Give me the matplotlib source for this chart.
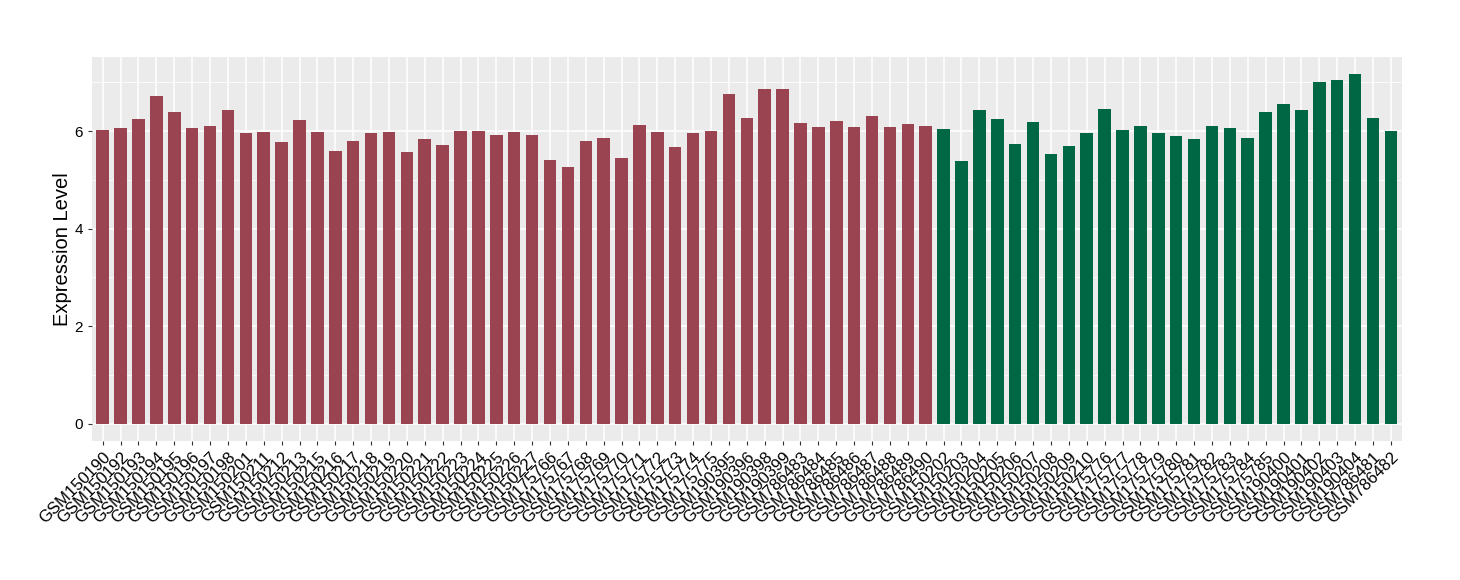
import numpy as np
import matplotlib
matplotlib.use("Agg")
from matplotlib import pyplot as plt

plt.rcParams['font.family'] = ['Liberation Sans', 'DejaVu Sans']

RED = '#9A4351'
GREEN = '#006745'

red_samples = [
    'GSM150190', 'GSM150192', 'GSM150193', 'GSM150194', 'GSM150195', 'GSM150196',
    'GSM150197', 'GSM150198', 'GSM150201', 'GSM150211', 'GSM150212', 'GSM150213',
    'GSM150215', 'GSM150216', 'GSM150217', 'GSM150218', 'GSM150219', 'GSM150220',
    'GSM150221', 'GSM150222', 'GSM150223', 'GSM150224', 'GSM150225', 'GSM150226',
    'GSM150227', 'GSM175766', 'GSM175767', 'GSM175768', 'GSM175769', 'GSM175770',
    'GSM175771', 'GSM175772', 'GSM175773', 'GSM175774', 'GSM175775', 'GSM190395',
    'GSM190396', 'GSM190398', 'GSM190399', 'GSM786483', 'GSM786484', 'GSM786485',
    'GSM786486', 'GSM786487', 'GSM786488', 'GSM786489', 'GSM786490',
]
red_values = [
    6.03, 6.07, 6.25, 6.72, 6.40, 6.07, 6.11, 6.44, 5.95, 5.99, 5.78, 6.23,
    5.97, 5.60, 5.80, 5.95, 5.97, 5.56, 5.84, 5.72, 6.01, 6.01, 5.91, 5.97,
    5.92, 5.41, 5.27, 5.80, 5.86, 5.45, 6.13, 5.97, 5.68, 5.95, 6.01, 6.75,
    6.27, 6.87, 6.87, 6.17, 6.09, 6.21, 6.09, 6.31, 6.09, 6.15, 6.11,
]

green_samples = [
    'GSM150202', 'GSM150203', 'GSM150204', 'GSM150205', 'GSM150206', 'GSM150207',
    'GSM150208', 'GSM150209', 'GSM150210', 'GSM175776', 'GSM175777', 'GSM175778',
    'GSM175779', 'GSM175780', 'GSM175781', 'GSM175782', 'GSM175783', 'GSM175784',
    'GSM175785', 'GSM190400', 'GSM190401', 'GSM190402', 'GSM190403', 'GSM190404',
    'GSM786481', 'GSM786482',
]
green_values = [
    6.05, 5.39, 6.44, 6.25, 5.74, 6.19, 5.53, 5.70, 5.95, 6.46, 6.03, 6.11,
    5.95, 5.90, 5.84, 6.11, 6.07, 5.86, 6.40, 6.56, 6.44, 7.01, 7.05, 7.16,
    6.27, 6.01,
]

samples = red_samples + green_samples
values = red_values + green_values
colors = [RED] * len(red_samples) + [GREEN] * len(green_samples)

fig = plt.figure(figsize=(14.6, 5.8), dpi=100)
ax = fig.add_axes([0.063, 0.2397, 0.897, 0.662])

x = np.arange(1, len(samples) + 1)
ax.bar(x, values, width=0.7, color=colors, zorder=3)

ax.set_facecolor('#EBEBEB')
ax.set_xlim(0.4, len(samples) + 0.6)
ymax = max(values)
ax.set_ylim(-0.05 * ymax, ymax * 1.05)

ax.set_yticks([0, 2, 4, 6])
ax.set_yticks([1, 3, 5, 7], minor=True)
ax.set_xticks(x)
ax.set_xticklabels(samples, rotation=45, ha='right', va='top',
                   rotation_mode='anchor', fontsize=12)
ax.tick_params(axis='y', labelsize=11, colors='#333333', labelcolor='black', length=3)
ax.tick_params(axis='y', which='minor', length=0)
ax.tick_params(axis='x', colors='#333333', labelcolor='black', length=3, pad=3)

ax.grid(True, which='major', color='white', linewidth=1.1, zorder=0)
ax.grid(True, which='minor', axis='y', color='white', linewidth=0.55, zorder=0)
ax.set_axisbelow(True)
for s in ax.spines.values():
    s.set_visible(False)

ax.set_ylabel('Expression Level', fontsize=14.5, labelpad=2)

fig.savefig('out.png', dpi=100)
